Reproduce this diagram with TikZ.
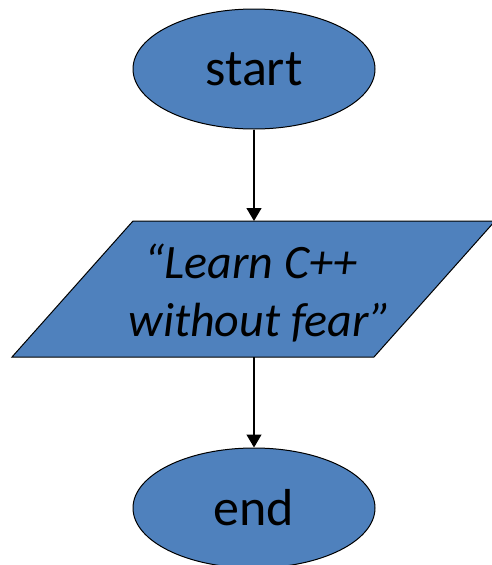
\documentclass[tikz,border=0pt]{standalone}
\usepackage{fontspec}
\setmainfont{Carlito}
\usetikzlibrary{shapes.geometric,arrows.meta}
\definecolor{fillblue}{HTML}{4F81BD}
\begin{document}
\begin{tikzpicture}[x=1pt,y=-1pt,
  term/.style={ellipse, draw=black, line width=1pt, fill=fillblue,
    minimum width=242pt, minimum height=120pt, inner sep=0pt,
    font=\fontsize{52}{60}\selectfont},
  iobox/.style={draw=black, line width=1pt, fill=fillblue},
  iotext/.style={align=center, inner sep=0pt, font=\fontsize{48}{58}\selectfont\itshape},
  conn/.style={-{Triangle[length=13pt,width=15pt]}, line width=1.2pt}]
\useasboundingbox (0,0) rectangle (491,565);
\node[term] (start) at (254,69) {start};
\path[iobox] (133,221) -- (495,221) -- (374,357) -- (12,357) -- cycle;
\coordinate (iotop) at (254,221);
\coordinate (iobot) at (254,357);
\node[iotext] (io) at (254,293) {“Learn C++\hspace*{6pt}\\\hspace*{12pt}without fear”};
\node[term] (end) at (254,508) {end};
\draw[conn] (start) -- (iotop);
\draw[conn] (iobot) -- (end);
\end{tikzpicture}
\end{document}
